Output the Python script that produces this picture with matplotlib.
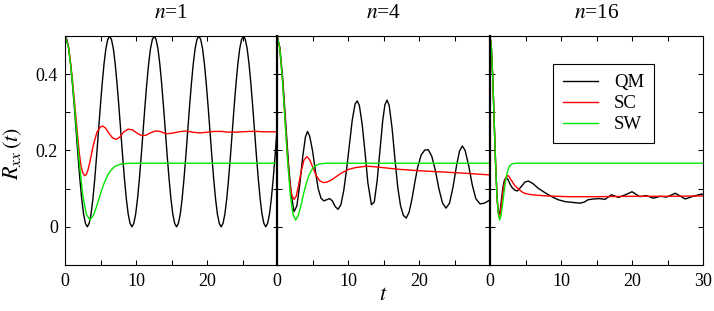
import numpy as np
import matplotlib.pyplot as plt
from matplotlib.ticker import MultipleLocator

plt.rcParams['font.family'] = 'Liberation Serif'
plt.rcParams['mathtext.fontset'] = 'stix'

titles = ['$n$=1', '$n$=4', '$n$=16']
names = ['QM', 'SC', 'SW']

# n=1
t_qm1 = np.arange(116) * np.pi / 12
qm1 = [0.500, 0.491, 0.467, 0.427, 0.375, 0.315, 0.250, 0.185, 0.125, 0.073, 0.033, 0.009,
       0.000, 0.009, 0.033, 0.073, 0.125, 0.185, 0.250, 0.315, 0.375, 0.427, 0.467, 0.491,
       0.500, 0.491, 0.467, 0.427, 0.375, 0.315, 0.250, 0.185, 0.125, 0.073, 0.033, 0.009,
       0.000, 0.009, 0.033, 0.073, 0.125, 0.185, 0.250, 0.315, 0.375, 0.427, 0.467, 0.491,
       0.500, 0.491, 0.467, 0.427, 0.375, 0.315, 0.250, 0.185, 0.125, 0.073, 0.033, 0.009,
       0.000, 0.009, 0.033, 0.073, 0.125, 0.185, 0.250, 0.315, 0.375, 0.427, 0.467, 0.491,
       0.500, 0.491, 0.467, 0.427, 0.375, 0.315, 0.250, 0.185, 0.125, 0.073, 0.033, 0.009,
       0.000, 0.009, 0.033, 0.073, 0.125, 0.185, 0.250, 0.315, 0.375, 0.427, 0.467, 0.491,
       0.500, 0.491, 0.467, 0.427, 0.375, 0.315, 0.250, 0.185, 0.125, 0.073, 0.033, 0.009,
       0.000, 0.009, 0.033, 0.073, 0.125, 0.185, 0.250, 0.315]
t_sc1 = [0, 0.5, 1, 1.5, 2, 2.25, 2.5, 2.75, 3, 3.25, 3.5, 4, 4.5, 5, 5.3, 5.7, 6.2, 6.7,
         7.2, 7.7, 8.3, 8.9, 9.5, 10.2, 10.8, 11.4, 12, 12.7, 13.4, 14.2, 15, 16, 17, 18,
         19, 20, 21, 22, 23, 24, 25, 26, 27, 28, 29, 30]
sc1 = [0.5, 0.472, 0.395, 0.295, 0.195, 0.160, 0.142, 0.134, 0.137, 0.150, 0.170, 0.215,
       0.248, 0.262, 0.264, 0.259, 0.245, 0.233, 0.229, 0.235, 0.249, 0.256, 0.254, 0.245,
       0.239, 0.240, 0.246, 0.251, 0.250, 0.244, 0.245, 0.249, 0.251, 0.248, 0.246, 0.248,
       0.250, 0.250, 0.248, 0.248, 0.249, 0.250, 0.250, 0.249, 0.249, 0.249]
t_sw1 = [0, 0.5, 1, 1.5, 2, 2.5, 3, 3.5, 4, 4.5, 5, 5.5, 6, 6.5, 7, 7.5, 8, 9, 10, 30]
sw1 = [0.5, 0.470, 0.389, 0.280, 0.171, 0.084, 0.033, 0.018, 0.030, 0.056, 0.087, 0.114,
       0.135, 0.149, 0.158, 0.162, 0.165, 0.1664, 0.1667, 0.1667]

# n=4
t_qm2 = [0, 0.4, 0.8, 1.2, 1.6, 2.0, 2.4, 2.8, 3.2, 3.6, 4.0, 4.3, 4.6, 5.0, 5.4, 5.8, 6.2,
         6.6, 7.0, 7.4, 7.8, 8.2, 8.6, 9.0, 9.4, 9.8, 10.2, 10.6, 11.0, 11.3, 11.6, 12.0,
         12.4, 12.8, 13.3, 13.7, 14.1, 14.5, 14.9, 15.2, 15.5, 15.8, 16.2, 16.6, 17.0, 17.4,
         17.8, 18.2, 18.6, 19.0, 19.4, 19.8, 20.3, 20.8, 21.3, 21.8, 22.3, 22.8, 23.3, 23.8,
         24.3, 24.8, 25.3, 25.7, 26.1, 26.5, 27.0, 27.5, 28.0, 28.6, 29.2, 29.6, 30]
qm2 = [0.5, 0.47, 0.39, 0.28, 0.17, 0.085, 0.040, 0.055, 0.11, 0.18, 0.235, 0.250, 0.238,
       0.200, 0.148, 0.100, 0.075, 0.068, 0.071, 0.074, 0.068, 0.053, 0.046, 0.058, 0.095,
       0.150, 0.215, 0.280, 0.322, 0.330, 0.318, 0.268, 0.195, 0.115, 0.058, 0.065, 0.120,
       0.200, 0.280, 0.320, 0.332, 0.318, 0.260, 0.180, 0.105, 0.055, 0.030, 0.023, 0.038,
       0.072, 0.115, 0.155, 0.188, 0.201, 0.202, 0.185, 0.148, 0.100, 0.063, 0.049, 0.062,
       0.105, 0.162, 0.198, 0.212, 0.200, 0.160, 0.110, 0.074, 0.060, 0.062, 0.066, 0.071]
t_sc2 = [0, 0.375, 0.75, 1.125, 1.5, 1.8, 2.1, 2.4, 2.7, 3.0, 3.4, 3.8, 4.2, 4.6, 5.0, 5.5,
         6.0, 6.5, 7.0, 7.6, 8.3, 9, 10, 11, 12.6, 14, 15.5, 17, 20, 23, 26, 30]
sc2 = [0.5, 0.470, 0.390, 0.285, 0.180, 0.115, 0.082, 0.072, 0.080, 0.105, 0.145, 0.175,
       0.184, 0.176, 0.158, 0.135, 0.121, 0.116, 0.117, 0.122, 0.131, 0.140, 0.150, 0.155,
       0.159, 0.157, 0.154, 0.151, 0.147, 0.144, 0.141, 0.136]
t_sw2 = [0, 0.375, 0.75, 1.125, 1.5, 1.875, 2.25, 2.625, 3.0, 3.375, 3.75, 4.125, 4.5, 4.875,
         5.25, 5.625, 6.0, 6.75, 7.5, 30]
sw2 = [0.5, 0.470, 0.389, 0.280, 0.171, 0.084, 0.033, 0.018, 0.030, 0.056, 0.087, 0.114,
       0.135, 0.149, 0.158, 0.162, 0.165, 0.1664, 0.1667, 0.1667]

# n=16
t_qm3 = [0, 0.2, 0.4, 0.6, 0.8, 1.0, 1.15, 1.3, 1.45, 1.6, 1.8, 2.0, 2.2, 2.35, 2.55, 2.8,
         3.1, 3.5, 3.85, 4.3, 4.9, 5.4, 6.0, 6.8, 7.7, 8.7, 9.6, 10.6, 11.6, 12.7, 13.3,
         13.8, 14.6, 15.4, 16.2, 17.1, 18.1, 19.2, 20.0, 21.1, 22.0, 23.0, 24.0, 24.9, 26.1,
         27.5, 28.6, 29.8, 30]
qm3 = [0.5, 0.468, 0.385, 0.27, 0.16, 0.075, 0.04, 0.03, 0.045, 0.07, 0.10, 0.12, 0.128,
       0.128, 0.123, 0.113, 0.103, 0.096, 0.094, 0.103, 0.117, 0.120, 0.114, 0.101, 0.090,
       0.079, 0.071, 0.066, 0.064, 0.062, 0.065, 0.071, 0.073, 0.074, 0.072, 0.084, 0.077,
       0.085, 0.092, 0.079, 0.082, 0.075, 0.080, 0.078, 0.088, 0.073, 0.080, 0.086, 0.085]
t_sc3 = [0, 0.2, 0.4, 0.6, 0.8, 1.0, 1.15, 1.3, 1.45, 1.6, 1.8, 2.0, 2.2, 2.4, 2.6, 2.8,
         3.0, 3.5, 4.0, 4.7, 5.5, 6.5, 8, 11, 15, 20, 25, 30]
sc3 = [0.5, 0.468, 0.385, 0.27, 0.16, 0.075, 0.04, 0.027, 0.035, 0.055, 0.088, 0.112, 0.127,
       0.133, 0.134, 0.128, 0.122, 0.108, 0.099, 0.089, 0.085, 0.083, 0.081, 0.079, 0.079,
       0.080, 0.080, 0.081]
t_sw3 = [0, 0.19, 0.39, 0.58, 0.78, 0.97, 1.17, 1.36, 1.56, 1.75, 1.95, 2.14, 2.33, 2.53,
         2.72, 2.92, 3.11, 3.5, 3.9, 30]
sw3 = [0.5, 0.470, 0.389, 0.280, 0.171, 0.084, 0.033, 0.018, 0.030, 0.056, 0.087, 0.114,
       0.135, 0.149, 0.158, 0.162, 0.165, 0.1664, 0.1667, 0.1667]

panels = [[(t_qm1, qm1), (t_sc1, sc1), (t_sw1, sw1)],
          [(t_qm2, qm2), (t_sc2, sc2), (t_sw2, sw2)],
          [(t_qm3, qm3), (t_sc3, sc3), (t_sw3, sw3)]]
colors = ['black', '#ff0000', '#00e600']

W, H = 714, 311
fig = plt.figure(figsize=(W/100, H/100), dpi=100)
lefts = [65, 277, 490]
axes = [fig.add_axes([l/W, 46/H, 213/W, 229/H]) for l in lefts]

for i, ax in enumerate(axes):
    for (t, v), c, nm in zip(panels[i], colors, names):
        ax.plot(t, v, color=c, lw=1.0, label=nm)
    ax.set_xlim(0, 30)
    ax.set_ylim(-0.1, 0.5)
    ax.xaxis.set_major_locator(MultipleLocator(10))
    ax.xaxis.set_minor_locator(MultipleLocator(5))
    ax.yaxis.set_major_locator(MultipleLocator(0.2))
    ax.yaxis.set_minor_locator(MultipleLocator(0.1))
    ax.tick_params(which='both', direction='in', top=True, right=True,
                   length=3.6, width=0.75, labelsize=13)
    ax.tick_params(axis='x', pad=6)
    ax.tick_params(axis='y', pad=5)
    if i < 2:
        ax.set_xticks([0, 10, 20, 30], ['0', '10', '20', ''])
    if i > 0:
        ax.tick_params(labelleft=False)
        ax.spines['left'].set_linewidth(1.6)
    for s in ['top', 'bottom', 'right']:
        ax.spines[s].set_linewidth(0.8)
    if i == 0:
        ax.spines['left'].set_linewidth(0.8)
        ax.set_yticks([0, 0.2, 0.4], ['0', '0.2', '0.4'])
    ax.text(0.5, 1 + 23/229, titles[i], transform=ax.transAxes, ha='center',
            va='center', fontsize=15.5)

leg = axes[2].legend(loc='upper left', bbox_to_anchor=(0.296, 0.878), fontsize=13.5,
                     fancybox=False, edgecolor='black', framealpha=1,
                     handlelength=1.85, handletextpad=0.85, labelspacing=0.2,
                     borderpad=0.55, borderaxespad=0)
leg.get_frame().set_linewidth(0.8)

fig.text(13/W, 1 - 153/H, r'$R_{xx}\,(t)$', rotation=90, ha='center', va='center',
         fontsize=16)
fig.text(383/W, 1 - 295/H, r'$t$', ha='center', va='center', fontsize=16)

fig.savefig('out.png', dpi=100)
